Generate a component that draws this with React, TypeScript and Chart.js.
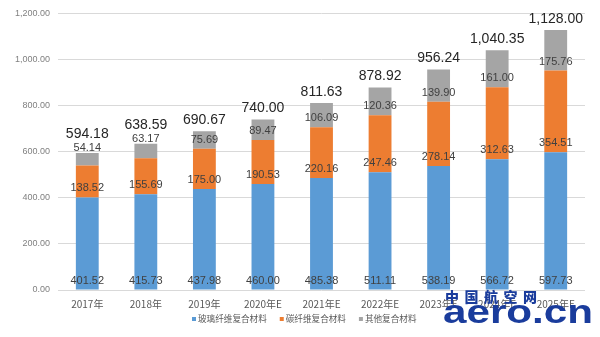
import React, { useEffect, useRef } from "react";
import { Chart, registerables } from "chart.js";

Chart.register(...registerables);

const categories = ["2017年", "2018年", "2019年", "2020年E", "2021年E", "2022年E", "2023年E", "2024年E", "2025年E"];
const glassFiber = [401.52, 415.73, 437.98, 460.0, 485.38, 511.11, 538.19, 566.72, 597.73];
const carbonFiber = [138.52, 155.69, 175.0, 190.53, 220.16, 247.46, 278.14, 312.63, 354.51];
const otherComposite = [54.14, 63.17, 75.69, 89.47, 106.09, 120.36, 139.9, 161.0, 175.76];
const totals = ["594.18", "638.59", "690.67", "740.00", "811.63", "878.92", "956.24", "1,040.35", "1,128.00"];
const seriesNames = ["玻璃纤维复合材料", "碳纤维复合材料", "其他复合材料"];
const seriesColors = ["#5B9BD5", "#ED7D31", "#A5A5A5"];
const yTicks = [0, 200, 400, 600, 800, 1000, 1200];

const NUM_FONT = '"Liberation Sans Narrow", "Liberation Sans", Arial, sans-serif';
const CJK_FONT = '"Noto Sans CJK SC", "Liberation Sans", sans-serif';

const labelPlugin = {
  id: "segLabels",
  afterDatasetsDraw(chart: any) {
    const ctx = chart.ctx;
    ctx.save();
    ctx.textAlign = "center";
    ctx.textBaseline = "middle";
    const n = chart.data.labels.length;
    for (let j = 0; j < n; j++) {
      let lastLabelY = Infinity;
      let topY = Infinity;
      let cx = 0;
      chart.data.datasets.forEach((ds: any, i: number) => {
        const el = chart.getDatasetMeta(i).data[j];
        if (!el) return;
        const top = el.y;
        const bottom = el.base;
        const h = bottom - top;
        cx = el.x;
        let y = bottom - 9;
        if (h < 16) y = top - 5;
        ctx.font = "11px " + NUM_FONT;
        ctx.fillStyle = "#404040";
        ctx.fillText(ds.data[j].toFixed(2), el.x, y);
        lastLabelY = Math.min(lastLabelY, y);
        topY = Math.min(topY, top);
      });
      const ty = Math.min(topY - 11, lastLabelY - 14);
      ctx.font = "14px " + NUM_FONT;
      ctx.fillStyle = "#262626";
      ctx.fillText(totals[j], cx, ty);
    }
    ctx.restore();
  },
};

const legendPlugin = {
  id: "customLegend",
  afterDraw(chart: any) {
    const ctx = chart.ctx;
    ctx.save();
    ctx.font = "8.6px " + CJK_FONT;
    ctx.textBaseline = "middle";
    ctx.textAlign = "left";
    const y = 319;
    let x = 192;
    chart.data.datasets.forEach((ds: any, i: number) => {
      ctx.fillStyle = seriesColors[i];
      ctx.fillRect(x, y - 2, 4, 4);
      x += 6;
      ctx.fillStyle = "#595959";
      ctx.fillText(ds.label, x, y);
      x += ctx.measureText(ds.label).width + 13;
    });
    ctx.restore();
  },
};

export default function App() {
  const ref = useRef<HTMLCanvasElement | null>(null);
  useEffect(() => {
    if (!ref.current) return;
    const chart = new Chart(ref.current, {
      type: "bar",
      data: {
        labels: categories,
        datasets: [
          { label: seriesNames[0], data: glassFiber, backgroundColor: seriesColors[0] },
          { label: seriesNames[1], data: carbonFiber, backgroundColor: seriesColors[1] },
          { label: seriesNames[2], data: otherComposite, backgroundColor: seriesColors[2] },
        ],
      },
      options: {
        animation: false,
        responsive: false,
        maintainAspectRatio: false,
        layout: { padding: { top: 9, right: 15, left: 0, bottom: 23 } },
        datasets: { bar: { barPercentage: 0.39, categoryPercentage: 1 } },
        plugins: {
          tooltip: { enabled: false },
          legend: { display: false },
        },
        scales: {
          x: {
            stacked: true,
            afterFit(axis: any) {
              axis.height = 24;
            },
            grid: { display: false },
            border: { display: false },
            ticks: { color: "#595959", font: { size: 10, family: CJK_FONT }, padding: 0, maxRotation: 0 },
          },
          y: {
            stacked: true,
            min: 0,
            max: 1200,
            afterBuildTicks(axis: any) {
              axis.ticks = yTicks.map((v) => ({ value: v }));
            },
            afterFit(axis: any) {
              axis.width = 58;
            },
            grid: { color: "#d9d9d9", drawTicks: false },
            border: { display: false },
            ticks: {
              color: "#808080",
              padding: 8,
              font: { size: 9, family: NUM_FONT },
              callback: (v: any) =>
                Number(v).toLocaleString("en-US", { minimumFractionDigits: 2, maximumFractionDigits: 2 }),
            },
          },
        },
      },
      plugins: [labelPlugin, legendPlugin],
    });
    return () => chart.destroy();
  }, []);
  return (
    <div style={{ position: "fixed", left: 0, top: 0, width: 600, height: 337, background: "#fff" }}>
      <canvas ref={ref} width={600} height={337} style={{ width: 600, height: 337, display: "block" }} />
      <div
        style={{
          position: "absolute",
          left: 445,
          top: 288,
          fontFamily: CJK_FONT,
          fontWeight: 900,
          fontSize: 14,
          color: "#1a3c9c",
          letterSpacing: 5.5,
          lineHeight: "16px",
          whiteSpace: "nowrap",
        }}
      >
        中国航空网
      </div>
      <div
        style={{
          position: "absolute",
          left: 443,
          top: 294,
          fontFamily: '"Liberation Sans", Arial, sans-serif',
          fontWeight: 700,
          fontSize: 34,
          color: "#1a3c9c",
          lineHeight: "34px",
          transform: "scaleX(1.24)",
          transformOrigin: "left top",
          whiteSpace: "nowrap",
        }}
      >
        aero.cn
      </div>
    </div>
  );
}
